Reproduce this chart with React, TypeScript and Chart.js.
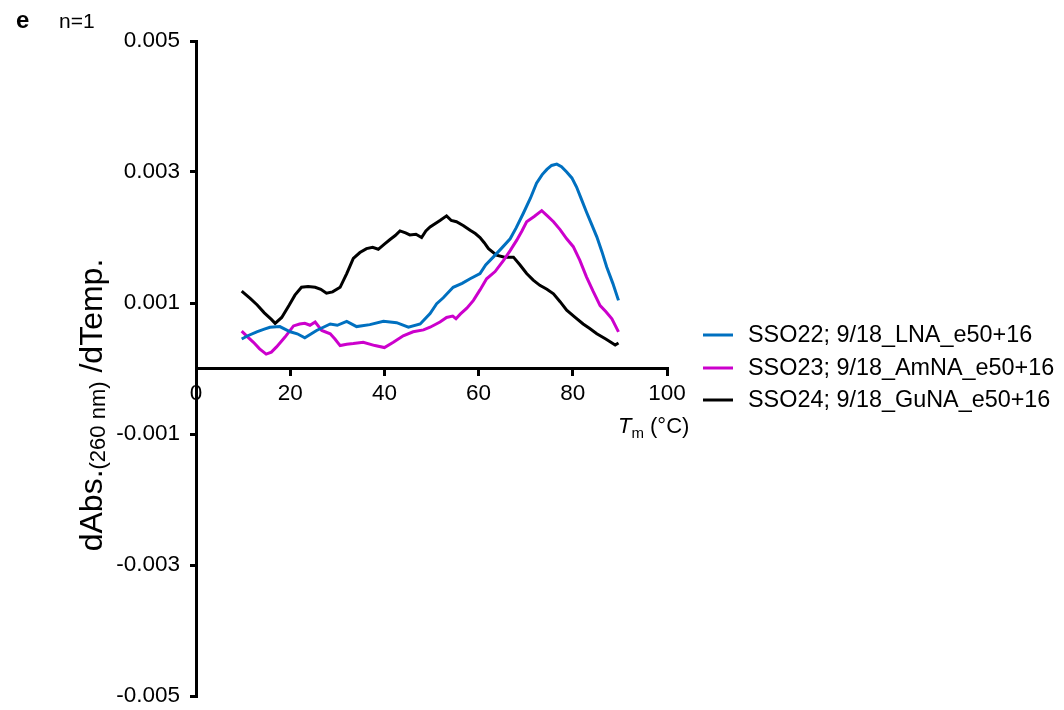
import React, { useEffect, useRef } from "react";
import { Chart, registerables } from "chart.js";

Chart.register(...registerables);

const FONT = "'Liberation Sans', Arial, sans-serif";

const seriesLabels = [
  "SSO22; 9/18_LNA_e50+16",
  "SSO23; 9/18_AmNA_e50+16",
  "SSO24; 9/18_GuNA_e50+16",
];
const seriesColors = ["#0070C0", "#CC00CC", "#000000"];

const lnaTemp = [9.7, 11.0, 12.9, 14.5, 15.7, 17.8, 20.0, 21.5, 23.1, 25.6, 28.5, 30.0, 32.0, 34.1, 36.9, 39.8, 42.6, 45.1, 47.6, 49.7, 51.1, 52.5, 54.6, 56.5, 58.2, 60.3, 61.5, 63.1, 64.8, 66.7, 68.0, 69.5, 71.0, 72.3, 73.5, 74.5, 75.5, 76.6, 77.6, 78.7, 79.8, 80.8, 81.8, 82.9, 84.0, 85.1, 86.2, 87.2, 88.5, 89.7];
const lnaValues = [0.00045, 0.0005, 0.00056, 0.0006, 0.00063, 0.00064, 0.00056, 0.00053, 0.00047, 0.00058, 0.00068, 0.00066, 0.00072, 0.00064, 0.00067, 0.00072, 0.0007, 0.00063, 0.00068, 0.00084, 0.00099, 0.00108, 0.00124, 0.0013, 0.00137, 0.00145, 0.00158, 0.0017, 0.00183, 0.00198, 0.00215, 0.00237, 0.0026, 0.00283, 0.00296, 0.00304, 0.0031, 0.00312, 0.00308, 0.003, 0.00291, 0.00277, 0.00259, 0.00239, 0.0022, 0.00201, 0.00178, 0.00155, 0.0013, 0.00104];

const amnaTemp = [9.7, 11.0, 12.2, 13.5, 14.9, 16.0, 17.1, 18.9, 20.7, 22.0, 23.1, 24.2, 25.3, 26.7, 28.5, 29.5, 30.6, 32.0, 33.4, 35.5, 38.0, 40.0, 41.9, 44.0, 46.1, 48.3, 49.7, 51.8, 53.2, 54.5, 55.2, 56.1, 57.5, 58.9, 60.3, 61.7, 63.5, 65.3, 66.7, 68.1, 69.2, 70.2, 71.8, 73.4, 74.6, 75.9, 77.3, 78.7, 80.1, 81.5, 82.9, 84.3, 85.8, 87.0, 88.3, 89.7];
const amnaValues = [0.00057, 0.00048, 0.0004, 0.0003, 0.00022, 0.00025, 0.00033, 0.00048, 0.00065, 0.00068, 0.00069, 0.00066, 0.00071, 0.00058, 0.00053, 0.00045, 0.00035, 0.00037, 0.00038, 0.0004, 0.00035, 0.00032, 0.0004, 0.0005, 0.00056, 0.00059, 0.00063, 0.00071, 0.00078, 0.0008, 0.00076, 0.00083, 0.00092, 0.00104, 0.0012, 0.00137, 0.00148, 0.00165, 0.0018, 0.00196, 0.0021, 0.00224, 0.00232, 0.00241, 0.00233, 0.00224, 0.00212, 0.00198, 0.00186, 0.00165, 0.0014, 0.00118, 0.00096, 0.00087, 0.00076, 0.00056];

const gunaTemp = [9.7, 11.5, 13.0, 14.5, 16.0, 16.8, 18.2, 19.8, 21.0, 22.4, 23.8, 25.3, 26.5, 27.7, 29.0, 30.6, 32.0, 33.4, 34.8, 36.2, 37.5, 38.7, 40.0, 41.2, 42.3, 43.3, 44.5, 45.4, 46.7, 47.9, 48.8, 49.7, 51.8, 53.2, 54.2, 55.3, 56.8, 58.2, 59.3, 60.3, 61.2, 62.1, 63.8, 65.5, 67.4, 68.8, 70.2, 71.6, 73.0, 74.5, 75.9, 77.3, 78.7, 80.5, 82.2, 83.6, 85.1, 87.0, 89.0, 89.7];
const gunaValues = [0.00118, 0.00107, 0.00097, 0.00085, 0.00075, 0.00069, 0.00078, 0.00097, 0.00112, 0.00124, 0.00125, 0.00124, 0.00121, 0.00115, 0.00117, 0.00124, 0.00145, 0.00168, 0.00177, 0.00183, 0.00185, 0.00182, 0.0019, 0.00197, 0.00203, 0.0021, 0.00207, 0.00204, 0.00205, 0.002, 0.0021, 0.00216, 0.00226, 0.00233, 0.00226, 0.00224, 0.00218, 0.00211, 0.00206, 0.002, 0.00192, 0.00183, 0.00173, 0.0017, 0.0017, 0.00158, 0.00145, 0.00135, 0.00127, 0.00121, 0.00114, 0.00102, 0.00089, 0.00078, 0.00068, 0.00061, 0.00053, 0.00045, 0.00036, 0.00039];

const xTicks = [0, 20, 40, 60, 80, 100];
const xTickLabels = ["0", "20", "40", "60", "80", "100"];
const yTicks = [-0.005, -0.003, -0.001, 0.001, 0.003, 0.005];
const yTickLabels = ["-0.005", "-0.003", "-0.001", "0.001", "0.003", "0.005"];

const panelLetter = "e";
const panelNote = "n=1";

const toPoints = (xs: number[], ys: number[]) => xs.map((x, i) => ({ x, y: ys[i] }));

const textPlugin = {
  id: "textPlugin",
  afterDraw(chart: any) {
    const ctx = chart.ctx as CanvasRenderingContext2D;
    ctx.save();
    ctx.fillStyle = "#000";
    ctx.textBaseline = "alphabetic";
    ctx.textAlign = "left";
    // panel label
    ctx.font = `bold 24px ${FONT}`;
    ctx.fillText(panelLetter, 16, 28);
    ctx.font = `21px ${FONT}`;
    ctx.fillText(panelNote, 59, 28);

    // x title: T_m (°C)
    let x = 618;
    const by = 433;
    ctx.font = `italic 22px ${FONT}`;
    ctx.fillText("T", x, by);
    x += ctx.measureText("T").width;
    ctx.font = `15px ${FONT}`;
    ctx.fillText("m", x, by + 5);
    x += ctx.measureText("m").width;
    ctx.font = `22px ${FONT}`;
    ctx.fillText(" (°C)", x, by);

    // y title rotated
    const parts = [
      { t: "dAbs.", f: `32px ${FONT}`, dy: 0 },
      { t: "(260 nm)", f: `22px ${FONT}`, dy: 3 },
      { t: " /dTemp.", f: `32px ${FONT}`, dy: 0 },
    ];
    let total = 0;
    const widths = parts.map((p) => {
      ctx.font = p.f;
      const w = ctx.measureText(p.t).width;
      total += w;
      return w;
    });
    ctx.save();
    ctx.translate(102, 405);
    ctx.rotate(-Math.PI / 2);
    let px = -total / 2;
    parts.forEach((p, i) => {
      ctx.font = p.f;
      ctx.fillText(p.t, px, p.dy);
      px += widths[i];
    });
    ctx.restore();

    // legend
    const rowsY = [335, 368, 400];
    ctx.font = `23.4px ${FONT}`;
    ctx.textBaseline = "middle";
    seriesLabels.forEach((lab, i) => {
      ctx.strokeStyle = seriesColors[i];
      ctx.lineWidth = 3;
      ctx.beginPath();
      ctx.moveTo(703, rowsY[i]);
      ctx.lineTo(733, rowsY[i]);
      ctx.stroke();
      ctx.fillStyle = "#000";
      ctx.fillText(lab, 748, rowsY[i] + 1);
    });
    ctx.restore();
  },
};

export default function App() {
  const ref = useRef<HTMLCanvasElement | null>(null);
  useEffect(() => {
    if (!ref.current) return;
    const series = [
      toPoints(lnaTemp, lnaValues),
      toPoints(amnaTemp, amnaValues),
      toPoints(gunaTemp, gunaValues),
    ];
    const chart = new Chart(ref.current, {
      type: "line",
      data: {
        datasets: series.map((d, i) => ({
          label: seriesLabels[i],
          data: d,
          borderColor: seriesColors[i],
          backgroundColor: seriesColors[i],
          borderWidth: 3,
          pointRadius: 0,
          tension: 0,
          fill: false,
        })),
      },
      options: {
        responsive: false,
        animation: false,
        devicePixelRatio: 1,
        layout: { padding: { left: 0, right: 397, top: 41, bottom: 14 } },
        plugins: { legend: { display: false }, tooltip: { enabled: false } },
        scales: {
          x: {
            type: "linear",
            min: 0,
            max: 100,
            position: { y: 0 } as any,
            afterBuildTicks: (s: any) => {
              s.ticks = xTicks.map((v) => ({ value: v }));
            },
            afterFit: (s: any) => {
              s.height = 0;
              s.paddingTop = 0;
              s.paddingBottom = 0;
            },
            grid: { drawOnChartArea: false, drawTicks: true, tickLength: 6, color: "#000", lineWidth: 3 },
            border: { display: true, color: "#000", width: 3 },
            ticks: {
              color: "#000",
              font: { family: FONT, size: 22.5 },
              padding: 6,
              maxRotation: 0,
              autoSkip: false,
              callback: (_v: any, i: number) => xTickLabels[i],
            },
          },
          y: {
            type: "linear",
            min: -0.005,
            max: 0.005,
            afterBuildTicks: (s: any) => {
              s.ticks = yTicks.map((v) => ({ value: v }));
            },
            afterFit: (s: any) => {
              s.width = 196;
              s.paddingTop = 0;
              s.paddingBottom = 0;
            },
            grid: { drawOnChartArea: false, drawTicks: true, tickLength: 6, color: "#000", lineWidth: 3 },
            border: { display: true, color: "#000", width: 3 },
            ticks: {
              color: "#000",
              font: { family: FONT, size: 22.5 },
              padding: 10,
              autoSkip: false,
              callback: (_v: any, i: number) => yTickLabels[i],
            },
          },
        },
      },
      plugins: [textPlugin],
    });
    return () => chart.destroy();
  }, []);
  return (
    <div style={{ position: "absolute", left: 0, top: 0, width: 1064, height: 710, background: "#fff" }}>
      <canvas ref={ref} width={1064} height={710} style={{ display: "block" }} />
    </div>
  );
}
